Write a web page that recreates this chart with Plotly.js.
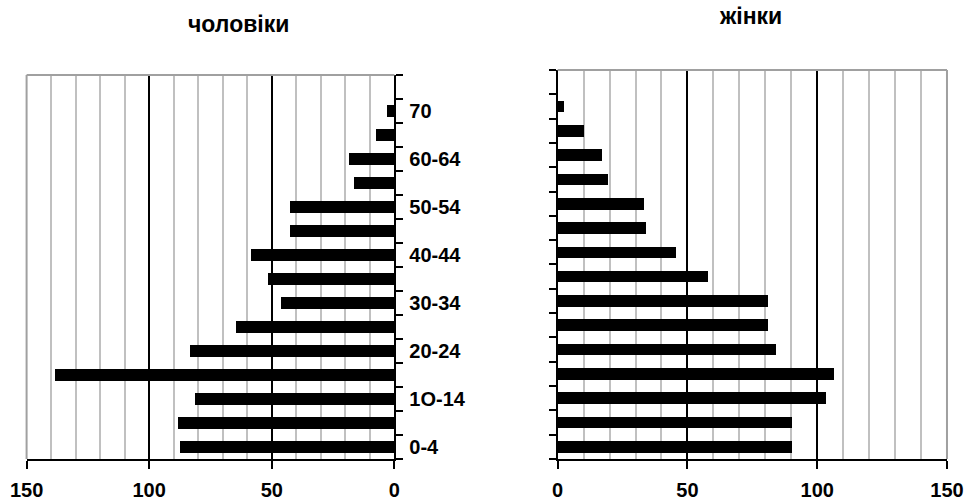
<!DOCTYPE html>
<html>
<head>
<meta charset="utf-8">
<script src="https://cdn.plot.ly/plotly-3.0.1.min.js"></script>
<style>html,body{margin:0;padding:0;background:#fff;}#chart{width:967px;height:504px;}</style>
</head>
<body>
<div id="chart"></div>
<script>
// Age groups, bottom to top
var ageGroups = ['0-4','5-9','1O-14','15-19','20-24','25-29','30-34','35-39','40-44','45-49','50-54','55-59','60-64','65-69','70'];
// чоловіки (men)
var menValues = [87.4, 88.3, 81.3, 138.3, 83.3, 64.4, 46.2, 51.4, 58.3, 42.4, 42.4, 16.4, 18.5, 7.5, 2.9];
// жінки (women)
var womenValues = [90.4, 90.4, 103.5, 106.4, 84.2, 81.1, 81.1, 58.0, 45.7, 34.1, 33.4, 19.5, 17.2, 10.3, 2.4];
var titleMen = 'чоловіки';
var titleWomen = 'жінки';

var yIdx = ageGroups.map(function(_, i){ return i; });
var labelIdx = yIdx.filter(function(i){ return i % 2 === 0; });
var labelText = labelIdx.map(function(i){ return ageGroups[i]; });

var FONT = 'Liberation Sans, Arial, sans-serif';

var traces = [
  {type:'bar', orientation:'h', x: menValues, y: yIdx, xaxis:'x', yaxis:'y',
   marker:{color:'#000'}, width:0.48, hoverinfo:'x'},
  {type:'bar', orientation:'h', x: womenValues, y: yIdx, xaxis:'x2', yaxis:'y2',
   marker:{color:'#000'}, width:0.48, hoverinfo:'x'}
];

function xAx(domain, range, anchor){
  return {
    domain: domain, range: range, anchor: anchor,
    tickmode:'linear', tick0:0, dtick:50,
    showgrid:true, gridcolor:'#000', gridwidth:2,
    minor:{tick0:0, dtick:10, showgrid:true, gridcolor:'#c0c0c0', gridwidth:2},
    showline:true, linecolor:'#000', linewidth:2,
    ticks:'outside', ticklen:8, tickwidth:2, tickcolor:'#000',
    ticklabelstandoff: 4,
    tickfont:{family:FONT, size:20, color:'#000', weight:'bold'},
    zeroline:false, fixedrange:true
  };
}
var yBase = {
  range:[-0.5, ageGroups.length + 0.5],
  showgrid:false, zeroline:false,
  showline:true, linecolor:'#000', linewidth:2,
  ticks:'', fixedrange:true,
  minor:{tick0:-0.5, dtick:1, ticks:'outside', ticklen:7, tickwidth:2, tickcolor:'#000', showgrid:false}
};

var layout = {
  width:967, height:504,
  margin:{l:0, r:0, t:0, b:0},
  paper_bgcolor:'#fff', plot_bgcolor:'#fff',
  showlegend:false, bargap:0,
  xaxis: xAx([0.0275, 0.4078], [150, 0], 'y'),
  xaxis2: xAx([0.5767, 0.9793], [0, 150], 'y2'),
  yaxis: Object.assign({}, yBase, {
    domain:[0.0893, 0.8512], anchor:'x', side:'right',
    tickmode:'array', tickvals: labelIdx, ticktext: labelText,
    ticklabelstandoff: 9,
    tickfont:{family:FONT, size:20, color:'#000', weight:'bold'}
  }),
  yaxis2: Object.assign({}, yBase, {
    domain:[0.0893, 0.8611], anchor:'x2', side:'left',
    tickmode:'array', tickvals: labelIdx, showticklabels:false
  }),
  shapes:[
    {type:'line', xref:'x domain', yref:'y domain', x0:0, x1:1, y0:1, y1:1, line:{color:'#a0a0a0', width:2}, layer:'above'},
    {type:'line', xref:'x domain', yref:'y domain', x0:0, x1:0, y0:0, y1:1, line:{color:'#a0a0a0', width:2}, layer:'above'},
    {type:'line', xref:'x2 domain', yref:'y2 domain', x0:0, x1:1, y0:1, y1:1, line:{color:'#a0a0a0', width:2}, layer:'above'},
    {type:'line', xref:'x2 domain', yref:'y2 domain', x0:1, x1:1, y0:0, y1:1, line:{color:'#a0a0a0', width:2}, layer:'above'}
  ],
  annotations:[
    {text: titleMen, xref:'paper', yref:'paper', x:0.247, y:0.952, xanchor:'center', yanchor:'middle', showarrow:false,
     font:{family:FONT, size:23, color:'#000', weight:'bold'}},
    {text: titleWomen, xref:'paper', yref:'paper', x:0.7766, y:0.969, xanchor:'center', yanchor:'middle', showarrow:false,
     font:{family:FONT, size:23, color:'#000', weight:'bold'}}
  ]
};

Plotly.newPlot('chart', traces, layout, {displayModeBar:false, staticPlot:true});
</script>
</body>
</html>
